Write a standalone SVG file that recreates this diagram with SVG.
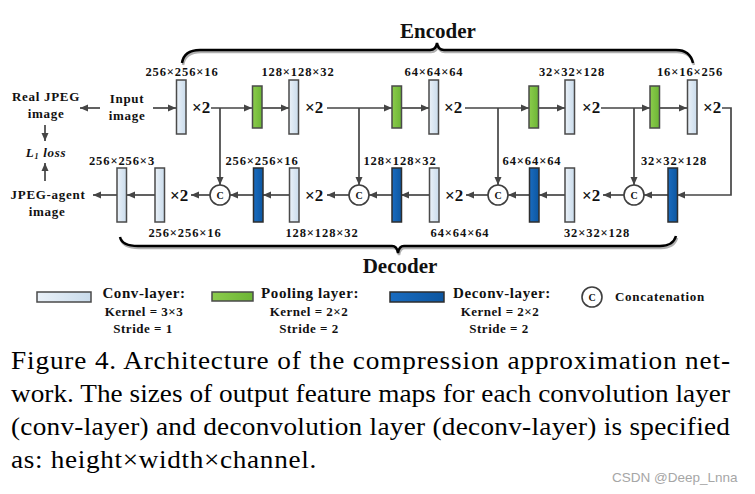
<svg xmlns="http://www.w3.org/2000/svg" width="755" height="494" viewBox="0 0 755 494">
<style>
.t{font-family:"Liberation Serif","Times New Roman",serif;font-weight:bold;fill:#111}
.dim{font-size:12.5px;letter-spacing:0.9px;text-anchor:middle}
.x2{font-size:17px}
.lbl{font-size:13px;letter-spacing:0.7px;text-anchor:middle}
.ttl{font-size:21px;text-anchor:middle}
.lg{font-size:15px;letter-spacing:0.6px;text-anchor:middle}
.lg2{font-size:13px;letter-spacing:0.5px;text-anchor:middle}
.cc{font-size:10px;text-anchor:middle}
.conv{fill:url(#gConv);stroke:#4a4a4a;stroke-width:1.5}
.pool{fill:url(#gPool);stroke:#4a4a4a;stroke-width:1.5}
.dec{fill:url(#gDec);stroke:#2e2e2e;stroke-width:1.5}
.cat{fill:#fff;stroke:#3f3f3f;stroke-width:1.6}
.ln{fill:none;stroke:#454545;stroke-width:1.7}
.ar{fill:none;stroke:#454545;stroke-width:1.7;marker-end:url(#ah)}
.br{fill:none;stroke:#000;stroke-width:2.5}
.brs{fill:none;stroke:#b0b0b0;stroke-width:2.5}
.cap{font-family:"Liberation Serif","Times New Roman",serif;font-size:25px;fill:#000}
</style>
<defs>
<linearGradient id="gConv" x1="0" y1="0" x2="1" y2="0"><stop offset="0" stop-color="#eaf1f8"/><stop offset="1" stop-color="#c9dbeb"/></linearGradient>
<linearGradient id="gPool" x1="0" y1="0" x2="1" y2="0"><stop offset="0" stop-color="#8ccc4c"/><stop offset="1" stop-color="#6cb535"/></linearGradient>
<linearGradient id="gDec" x1="0" y1="0" x2="1" y2="0"><stop offset="0" stop-color="#1a6cc0"/><stop offset="1" stop-color="#0c56a0"/></linearGradient>
<marker id="ah" markerUnits="userSpaceOnUse" markerWidth="9" markerHeight="8" refX="8" refY="4" orient="auto"><path d="M0,0.5 L8,4 L0,7.5 z" fill="#454545"/></marker>
</defs>

<g id="connectors">
<path class="ar" d="M100,108 L80,108"/>
<path class="ar" d="M153,108 L176,108"/>
<path class="ar" d="M211,108 L252,108"/>
<path class="ar" d="M262,108 L289,108"/>
<path class="ar" d="M327,108 L392,108"/>
<path class="ar" d="M401,108 L429,108"/>
<path class="ar" d="M465,108 L529,108"/>
<path class="ar" d="M538,108 L565,108"/>
<path class="ar" d="M601,108 L650,108"/>
<path class="ar" d="M659,108 L687,108"/>
<path class="ar" d="M722,108 L731,108 L731,195 L677,195"/>
<path class="ar" d="M220,108 L220,185"/>
<path class="ar" d="M359,108 L359,185"/>
<path class="ar" d="M498,108 L498,185"/>
<path class="ar" d="M634,108 L634,185"/>
<path class="ar" d="M668,195 L644,195"/>
<path class="ar" d="M624,195 L603,195"/>
<path class="ar" d="M565,195 L539,195"/>
<path class="ar" d="M529,195 L508,195"/>
<path class="ar" d="M488,195 L466,195"/>
<path class="ar" d="M429,195 L401,195"/>
<path class="ar" d="M392,195 L369,195"/>
<path class="ar" d="M349,195 L327,195"/>
<path class="ar" d="M289,195 L263,195"/>
<path class="ar" d="M253,195 L230,195"/>
<path class="ar" d="M210,195 L191,195"/>
<path class="ar" d="M155,195 L127,195"/>
<path class="ar" d="M117,195 L93,195"/>
<path class="ar" d="M45,125 L45,141"/>
<path class="ar" d="M45,181 L45,163"/>
</g>

<g id="braces">
<path class="brs" d="M183,65 Q185,52 201,52 L431,52 Q437,52 438,45 Q439,52 445,52 L677,52 Q691,52 694,65"/>
<path class="br" d="M182,63 Q184,50 200,50 L430,50 Q436,50 437,43 Q438,50 444,50 L676,50 Q690,50 693,63"/>
<path class="brs" d="M121,239 Q123,248 139,248 L393,248 Q398,248 399,255 Q400,248 405,248 L661,248 Q674,248 677,238"/>
<path class="br" d="M120,237 Q122,246 138,246 L392,246 Q397,246 398,253 Q399,246 404,246 L660,246 Q673,246 676,236"/>
<text class="t ttl" x="438" y="38">Encoder</text>
<text class="t ttl" x="400" y="273">Decoder</text>
</g>

<g id="io">
<text class="t lbl" x="46" y="101">Real JPEG</text>
<text class="t lbl" x="46" y="118">image</text>
<text class="t lbl" x="127" y="103">Input</text>
<text class="t lbl" x="127" y="120">image</text>
<text class="t lbl" x="46" y="157" font-style="italic">L<tspan font-size="8" dy="2">1</tspan><tspan dy="-2"> loss</tspan></text>
<text class="t lbl" x="48" y="199">JPEG-agent</text>
<text class="t lbl" x="47" y="216">image</text>
</g>

<g id="encoder">
<g id="enc-conv1"><rect class="conv" x="176.5" y="80" width="9.5" height="54"/><text class="t dim" x="182" y="76">256×256×16</text><text class="t x2" x="192" y="113">×2</text></g>
<g id="enc-pool1"><rect class="pool" x="252.5" y="86" width="9.5" height="42"/></g>
<g id="enc-conv2"><rect class="conv" x="289" y="80" width="9.5" height="54"/><text class="t dim" x="298" y="76">128×128×32</text><text class="t x2" x="305" y="113">×2</text></g>
<g id="enc-pool2"><rect class="pool" x="392" y="86" width="9.5" height="42"/></g>
<g id="enc-conv3"><rect class="conv" x="429" y="80" width="9.5" height="54"/><text class="t dim" x="434" y="76">64×64×64</text><text class="t x2" x="444" y="113">×2</text></g>
<g id="enc-pool3"><rect class="pool" x="529" y="86" width="9.5" height="42"/></g>
<g id="enc-conv4"><rect class="conv" x="565" y="80" width="9.5" height="54"/><text class="t dim" x="572" y="76">32×32×128</text><text class="t x2" x="582" y="113">×2</text></g>
<g id="enc-pool4"><rect class="pool" x="650" y="86" width="9.5" height="42"/></g>
<g id="enc-conv5"><rect class="conv" x="687.5" y="80" width="9.5" height="54"/><text class="t dim" x="690" y="76">16×16×256</text><text class="t x2" x="703" y="113">×2</text></g>
</g>

<g id="decoder">
<g id="dec-deconv4"><rect class="dec" x="668" y="168" width="9.5" height="54"/><text class="t dim" x="674" y="165">32×32×128</text></g>
<g id="cat4"><circle class="cat" cx="634" cy="195" r="10"/><text class="t cc" x="634" y="198.5">C</text></g>
<g id="dec-conv4"><rect class="conv" x="565" y="168" width="9.5" height="54"/><text class="t x2" x="582" y="201">×2</text><text class="t dim" x="597" y="237">32×32×128</text></g>
<g id="dec-deconv3"><rect class="dec" x="529.5" y="168" width="9.5" height="54"/><text class="t dim" x="532" y="165">64×64×64</text></g>
<g id="cat3"><circle class="cat" cx="498" cy="195" r="10"/><text class="t cc" x="498" y="198.5">C</text></g>
<g id="dec-conv3"><rect class="conv" x="429.5" y="168" width="9.5" height="54"/><text class="t x2" x="445" y="201">×2</text><text class="t dim" x="460" y="237">64×64×64</text></g>
<g id="dec-deconv2"><rect class="dec" x="392" y="168" width="9.5" height="54"/><text class="t dim" x="400" y="165">128×128×32</text></g>
<g id="cat2"><circle class="cat" cx="359" cy="195" r="10"/><text class="t cc" x="359" y="198.5">C</text></g>
<g id="dec-conv2"><rect class="conv" x="289.5" y="168" width="9.5" height="54"/><text class="t x2" x="305" y="201">×2</text><text class="t dim" x="322" y="237">128×128×32</text></g>
<g id="dec-deconv1"><rect class="dec" x="253.5" y="168" width="9.5" height="54"/><text class="t dim" x="262" y="165">256×256×16</text></g>
<g id="cat1"><circle class="cat" cx="220" cy="195" r="10"/><text class="t cc" x="220" y="198.5">C</text></g>
<g id="dec-conv1"><rect class="conv" x="155" y="168" width="9.5" height="54"/><text class="t x2" x="170" y="201">×2</text><text class="t dim" x="185" y="237">256×256×16</text></g>
<g id="dec-out"><rect class="conv" x="117" y="168" width="9.5" height="54"/><text class="t dim" x="122" y="165">256×256×3</text></g>
</g>

<g id="legend">
<g id="leg-conv"><rect class="conv" x="37" y="292" width="54" height="10"/><text class="t lg" x="144" y="298">Conv-layer:</text><text class="t lg2" x="144" y="316">Kernel = 3×3</text><text class="t lg2" x="143" y="333">Stride = 1</text></g>
<g id="leg-pool"><rect class="pool" x="212" y="292" width="41" height="9"/><text class="t lg" x="310" y="298">Pooling layer:</text><text class="t lg2" x="309" y="316">Kernel = 2×2</text><text class="t lg2" x="309" y="333">Stride = 2</text></g>
<g id="leg-dec"><rect class="dec" x="390" y="292" width="54" height="10"/><text class="t lg" x="502" y="298">Deconv-layer:</text><text class="t lg2" x="500" y="316">Kernel = 2×2</text><text class="t lg2" x="499" y="333">Stride = 2</text></g>
<g id="leg-cat"><circle class="cat" cx="592" cy="297" r="10"/><text class="t cc" x="592" y="300.5">C</text><text class="t" x="615" y="301" font-size="13" letter-spacing="0.7">Concatenation</text></g>
</g>

<g id="caption">
<g transform="scale(1.09,1)">
<text class="cap" x="10.1" y="369" textLength="659.6" lengthAdjust="spacing">Figure 4. Architecture of the compression approximation net-</text>
<text class="cap" x="10.1" y="402" textLength="659.6" lengthAdjust="spacing">work. The sizes of output feature maps for each convolution layer</text>
<text class="cap" x="10.1" y="435" textLength="659.6" lengthAdjust="spacing">(conv-layer) and deconvolution layer (deconv-layer) is specified</text>
<text class="cap" x="10.1" y="468" textLength="280" lengthAdjust="spacing">as: height×width×channel.</text>
</g>
<text x="612" y="482" font-family="'Liberation Sans',Arial,sans-serif" font-size="13.5" fill="#a6a6a6">CSDN @Deep_Lnna</text>
</g>
</svg>
